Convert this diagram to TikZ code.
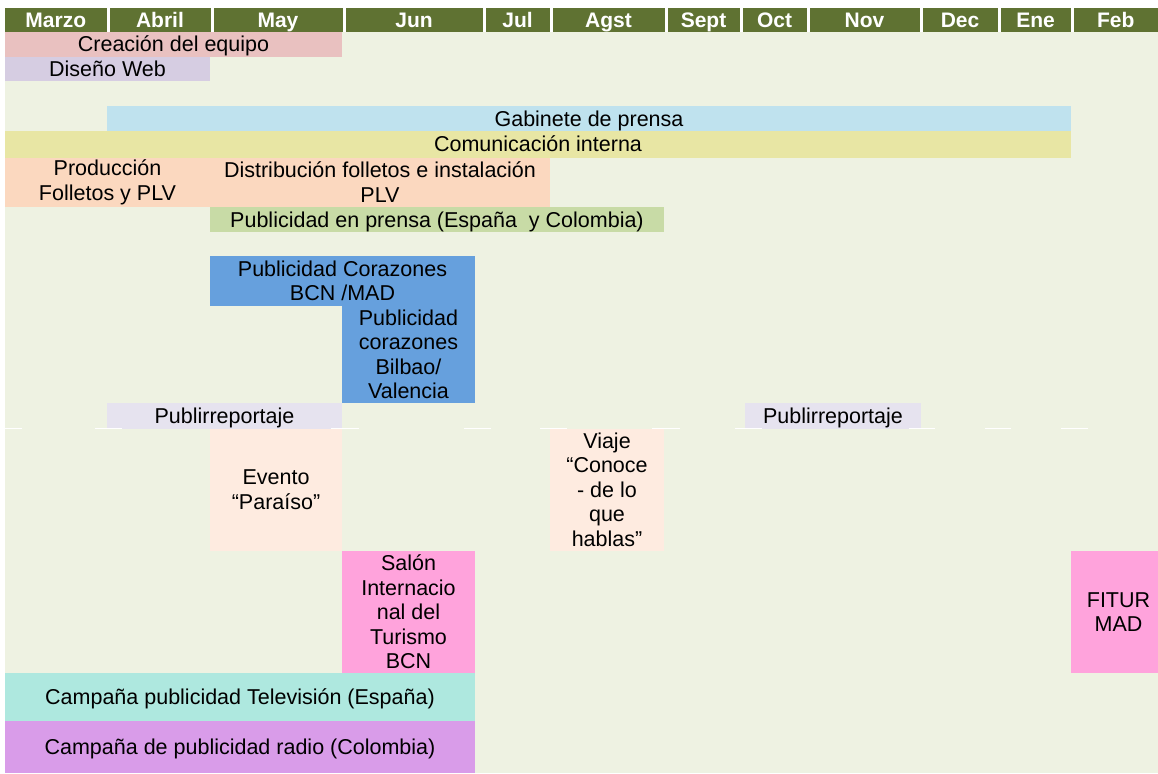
\documentclass[tikz,border=0pt]{standalone}
\usepackage{fontspec}
\setmainfont{Liberation Sans}
\definecolor{bgc}{HTML}{EEF2E2}
\definecolor{headc}{HTML}{5F7232}
\definecolor{creac}{HTML}{E9C1C0}
\definecolor{disc}{HTML}{D6CDE2}
\definecolor{gabc}{HTML}{BFE2EE}
\definecolor{comc}{HTML}{E8E6A4}
\definecolor{proc}{HTML}{FBD8BF}
\definecolor{prenc}{HTML}{C8DBA6}
\definecolor{corc}{HTML}{66A0DD}
\definecolor{pubc}{HTML}{E6E3EF}
\definecolor{evc}{HTML}{FEEBE0}
\definecolor{salc}{HTML}{FFA3DC}
\definecolor{tvc}{HTML}{AEE8DF}
\definecolor{radc}{HTML}{D99CE9}
\tikzset{
  bar/.style={inner sep=0pt, outer sep=0pt, align=center, text=black,
    font=\fontsize{21.5}{24.5}\selectfont},
  oneline/.style={text height=15.5pt, text depth=0.5pt},
  hcell/.style={fill=headc, inner sep=0pt, outer sep=0pt, minimum height=24pt,
    text height=15pt, text depth=0pt,
    text=white, font=\fontsize{21}{24}\selectfont\bfseries},
  gap/.style={draw=white, line width=1.6pt}
}
\newcommand{\barnode}[8][]{% opts, name, color, x1, y1, x2, y2, text
  \node[bar, #1, fill=#3, minimum width={#6-#4}, minimum height={#7-#5}] (#2) at ({(#4+#6)/2},{(#5+#7)/2}) {#8};}
\begin{document}
\begin{tikzpicture}[x=1pt,y=-1pt]
\useasboundingbox (0,0) rectangle (1158,773);
\fill[white] (0,0) rectangle (1158,773);
\fill[bgc] (5,32) rectangle (1158,773);
% header
\foreach \a/\b/\t [count=\i] in {5/106.5/Marzo,109.5/210.5/Abril,213.5/342.5/May,345.5/482.5/Jun,485.5/549.5/Jul,552.5/664.5/Agst,667.5/739.5/Sept,742.5/806.5/Oct,809.5/919.5/Nov,922.5/997.5/Dec,1000.5/1070.5/Ene,1073.5/1158/Feb}{
  \node[hcell, minimum width={\b-\a}] (h\i) at ({(\a+\b)/2},20) {\t};
}
% bars
\barnode[oneline]{creacion}{creac}{5}{32}{342}{57}{Creación del equipo}
\barnode[oneline]{diseno}{disc}{5}{57}{210}{81}{Diseño Web}
\barnode[oneline]{gabinete}{gabc}{107}{106}{1071}{131}{Gabinete de prensa}
\barnode[oneline]{comunic}{comc}{5}{131}{1071}{157.5}{Comunicación interna}
\barnode{produc}{proc}{5}{157.5}{210}{207}{Producción\\Folletos y PLV}
\barnode{distrib}{proc}{210}{157.5}{550}{207}{Distribución folletos e instalación\\PLV}
\barnode[oneline]{prensa}{prenc}{210}{207}{664}{232}{Publicidad en prensa (España\ \ y Colombia)}
\barnode{corbcn}{corc}{210}{256}{475}{306}{Publicidad Corazones\\BCN /MAD}
\barnode{corbil}{corc}{342}{305.5}{475}{403}{Publicidad\\corazones\\Bilbao/\\Valencia}
\barnode[oneline]{publi1}{pubc}{107}{403}{342}{428.5}{Publirreportaje}
\barnode[oneline]{publi2}{pubc}{745}{403}{921}{428.5}{Publirreportaje}
\barnode{evento}{evc}{210}{428.5}{342}{551}{Evento\\“Paraíso”}
\barnode{viaje}{evc}{550}{428.5}{664}{551}{Viaje\\“Conoce\\- de lo\\que\\hablas”}
\barnode{salon}{salc}{342}{551}{475}{673}{Salón\\Internacio\\nal del\\Turismo\\BCN}
\barnode{fitur}{salc}{1071}{551}{1158}{673}{\hspace*{8pt}FITUR\\\hspace*{8pt}MAD}
\barnode[oneline]{tv}{tvc}{5}{673}{475}{721}{Campaña publicidad Televisión (España)}
\barnode[oneline]{radio}{radc}{5}{721}{475}{773}{Campaña de publicidad radio (Colombia)}
% white border fragments
\foreach \a/\b in {5/22,95/122,331/359,464/491,540/567,652/680,735/762,909/935,985/1011,1061/1088}{
  \draw[gap] (\a,428.5) -- (\b,428.5);
}
\end{tikzpicture}
\end{document}
